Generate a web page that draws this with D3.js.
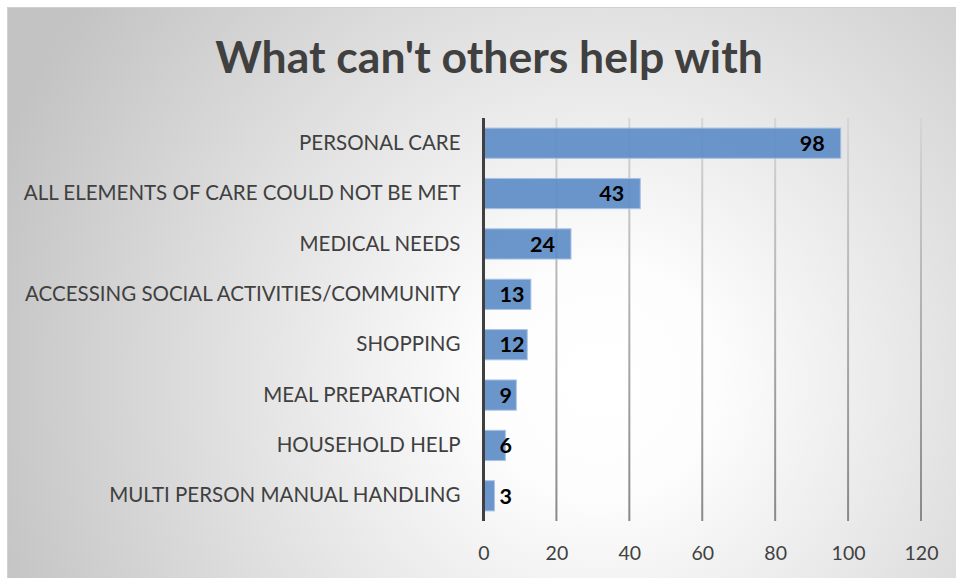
<!DOCTYPE html>
<html>
<head>
<meta charset="utf-8">
<script src="https://cdn.jsdelivr.net/npm/d3@7"></script>
<style>
  html, body { margin: 0; padding: 0; background: #ffffff; }
  svg { display: block; }
</style>
</head>
<body>
<svg id="chart" width="956" height="578"></svg>
<script>
// Chart content
const title = "What can't others help with";
const categories = [
  "PERSONAL CARE",
  "ALL ELEMENTS OF CARE COULD NOT BE MET",
  "MEDICAL NEEDS",
  "ACCESSING SOCIAL ACTIVITIES/COMMUNITY",
  "SHOPPING",
  "MEAL PREPARATION",
  "HOUSEHOLD HELP",
  "MULTI PERSON MANUAL HANDLING"
];
const values = [98, 43, 24, 13, 12, 9, 6, 3];
const xTicks = [0, 20, 40, 60, 80, 100, 120];

const W = 956, H = 578;
const plot = { left: 483.5, right: 921, top: 118, bottom: 521 };
const textColor = "#404040";
const font = "Lato, 'Open Sans', sans-serif";

const svg = d3.select("#chart");
const defs = svg.append("defs");

// Radial background: bright centre fading to grey edges
const bg = defs.append("radialGradient")
  .attr("id", "bgGrad")
  .attr("gradientUnits", "userSpaceOnUse")
  .attr("cx", 600).attr("cy", 380).attr("r", 640);
bg.append("stop").attr("offset", "0%").attr("stop-color", "#ffffff");
bg.append("stop").attr("offset", "18%").attr("stop-color", "#fdfdfd");
bg.append("stop").attr("offset", "100%").attr("stop-color", "#c3c3c3");

// Gridlines fade from light at the top to darker at the bottom
const gg = defs.append("linearGradient")
  .attr("id", "gridGrad")
  .attr("gradientUnits", "userSpaceOnUse")
  .attr("x1", 0).attr("y1", plot.top).attr("x2", 0).attr("y2", plot.bottom);
gg.append("stop").attr("offset", "0%").attr("stop-color", "#d6d6d6");
gg.append("stop").attr("offset", "100%").attr("stop-color", "#888888");

svg.append("rect")
  .attr("x", 7.5).attr("y", 7.5)
  .attr("width", W).attr("height", H)
  .attr("fill", "url(#bgGrad)")
  .attr("stroke", "#d0d0d0").attr("stroke-width", 1);

// Scales
const x = d3.scaleLinear().domain([0, 120]).range([plot.left, plot.right]);
const y = d3.scaleBand().domain(categories).range([plot.top, plot.bottom]).paddingInner(0.4).paddingOuter(0.2);

// Vertical gridlines
svg.append("g").selectAll("line")
  .data(xTicks.filter(d => d > 0))
  .join("line")
  .attr("x1", d => x(d)).attr("x2", d => x(d))
  .attr("y1", plot.top).attr("y2", plot.bottom)
  .attr("stroke", "url(#gridGrad)")
  .attr("stroke-width", 2);

// Bars
svg.append("g").selectAll("rect")
  .data(values)
  .join("rect")
  .attr("x", x(0))
  .attr("y", (d, i) => y(categories[i]))
  .attr("width", d => x(d) - x(0))
  .attr("height", y.bandwidth())
  .attr("fill", "#5a8bc6")
  .attr("fill-opacity", 0.9)
  .attr("stroke", "#a9c3e4")
  .attr("stroke-width", 1);

// Category axis
const yAxis = svg.append("g")
  .attr("transform", `translate(${plot.left},0)`)
  .call(d3.axisLeft(y).tickSize(0).tickPadding(23));
yAxis.select(".domain").remove();
yAxis.selectAll("text")
  .attr("fill", textColor)
  .style("font-family", font)
  .style("font-size", "20.5px");

// Value axis
const xAxis = svg.append("g")
  .attr("transform", `translate(0,${plot.bottom})`)
  .call(d3.axisBottom(x).tickValues(xTicks).tickSize(0).tickPadding(25));
xAxis.select(".domain").remove();
xAxis.selectAll("text")
  .attr("fill", textColor)
  .style("font-family", font)
  .style("font-size", "19.5px");

// Baseline at zero
svg.append("line")
  .attr("x1", x(0)).attr("x2", x(0))
  .attr("y1", plot.top).attr("y2", plot.bottom)
  .attr("stroke", "#404040").attr("stroke-width", 3);

// Value labels: inside the bar end, kept clear of the baseline
const labels = svg.append("g").selectAll("text")
  .data(values)
  .join("text")
  .attr("y", (d, i) => y(categories[i]) + y.bandwidth() / 2)
  .attr("dy", "0.36em")
  .attr("text-anchor", "end")
  .attr("fill", "#000000")
  .style("font-family", font)
  .style("font-weight", "bold")
  .style("font-size", "21.5px")
  .text(d => d);
labels.attr("x", function(d) {
  const w = this.getComputedTextLength();
  return Math.max(x(d) - 16, x(0) + 16 + w);
});

// Title
svg.append("text")
  .attr("x", 489).attr("y", 73)
  .attr("text-anchor", "middle")
  .attr("fill", textColor)
  .style("font-family", font)
  .style("font-weight", "bold")
  .style("font-size", "44.5px")
  .text(title);
</script>
</body>
</html>
